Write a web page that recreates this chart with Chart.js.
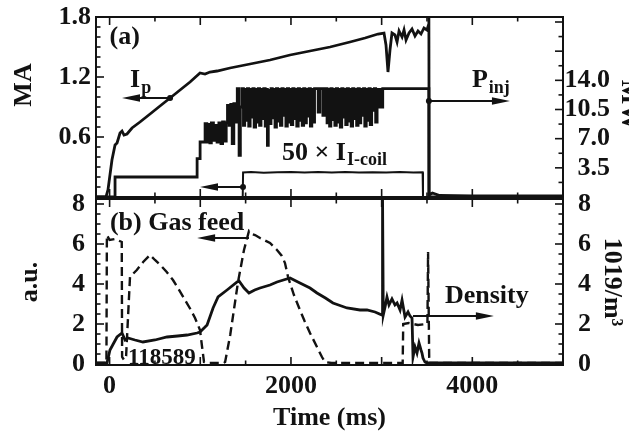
<!DOCTYPE html>
<html>
<head>
<meta charset="utf-8">
<script src="https://cdn.jsdelivr.net/npm/chart.js@4/dist/chart.umd.min.js"></script>
<style>
  html, body { margin: 0; padding: 0; background: #fff; }
  #wrap { position: relative; width: 629px; height: 434px; overflow: hidden; background: #fff; }
  #wrap canvas { position: absolute; left: 0; }
  #topPanel { top: 0; }
  #bottomPanel { top: 188px; }
</style>
</head>
<body>
<div id="wrap">
  <canvas id="topPanel" width="629" height="199"></canvas>
  <canvas id="bottomPanel" width="629" height="246"></canvas>
</div>
<script>
// ---------- time axis ----------
const timeMin = -150, timeMax = 5000;
const timeTicks = [0, 2000, 4000];

// ---------- (a) plasma current I_p [MA] ----------
const ipTime = [-150, -40, -18, 26, 60, 82, 115, 137, 159, 192, 247, 335, 446, 556, 667, 777, 887, 997, 1052, 1107, 1185,
  1328, 1549, 1769, 1990, 2210, 2431, 2651, 2817, 2960, 3026, 3048, 3070, 3092, 3114, 3147, 3170, 3192, 3225, 3247,
  3269, 3302, 3335, 3368, 3401, 3434, 3467, 3500, 3517, 3521, 3524, 3560, 3640, 4000, 4500, 5000];
const ipMA = [0, 0, 0.07, 0.37, 0.52, 0.54, 0.64, 0.66, 0.62, 0.63, 0.69, 0.75, 0.83, 0.91, 0.99, 1.07, 1.15, 1.24, 1.23, 1.25, 1.26,
  1.29, 1.33, 1.37, 1.42, 1.46, 1.50, 1.55, 1.59, 1.63, 1.64, 1.52, 1.25, 1.47, 1.64, 1.62, 1.55, 1.66, 1.60, 1.67,
  1.57, 1.64, 1.68, 1.61, 1.66, 1.63, 1.69, 1.67, 1.72, 1.80, 0.02, 0.04, 0.015, 0.01, 0.012, 0.01];

// ---------- (a) injected beam power P_inj [MW] (sample-and-hold) ----------
const pinjTime = [-150, 60, 965, 998, 1053, 1072, 1088, 1106, 1122, 1145, 1162, 1185, 1205, 1228, 1246, 1266, 1286, 1300,
  1318, 1336, 1352, 1370, 1390, 1408, 1428, 1442, 1462, 1476, 1490, 1504, 1520, 1534, 1550, 1564, 1580, 1594, 1610, 1624,
  1640, 1654, 1670, 1684, 1700, 1716, 1730, 1740, 1750, 1764, 1780, 1794, 1810, 1824, 1840, 1854, 1870, 1884, 1900, 1914,
  1930, 1944, 1960, 1974, 1990, 2004, 2020, 2034, 2050, 2064, 2080, 2094, 2110, 2124, 2140, 2154, 2170, 2184, 2200, 2214,
  2230, 2244, 2260, 2300, 2318, 2352, 2370, 2398, 2412, 2426, 2440, 2454, 2470, 2484, 2500, 2514, 2530, 2544, 2560, 2574,
  2590, 2604, 2620, 2634, 2650, 2664, 2680, 2694, 2710, 2724, 2740, 2754, 2770, 2784, 2800, 2814, 2830, 2844, 2860, 2874,
  2890, 2904, 2920, 2934, 2950, 2964, 2980, 2995, 3012, 3521, 5000];
const pinjMW = [0, 2.4, 4.6, 6.6, 8.8, 6.6, 8.7, 6.5, 8.9, 6.8, 8.6, 6.6, 8.9, 6.4, 9.0, 6.7, 8.9, 11.0,
  8.6, 11.1, 6.4, 11.2, 9.0, 13.0, 5.0, 10.8, 13.0, 8.6, 12.9, 9.2, 13.0, 8.5, 12.9, 9.6, 13.0, 8.4, 12.9, 9.0,
  13.0, 8.6, 12.9, 9.4, 13.0, 8.5, 12.9, 6.2, 12.8, 8.8, 13.0, 9.5, 12.9, 8.4, 13.0, 9.1, 12.9, 8.6, 13.0, 9.8,
  12.9, 8.5, 13.0, 9.0, 12.9, 8.7, 13.0, 9.4, 12.9, 8.5, 13.0, 9.2, 12.9, 8.6, 13.0, 8.9, 12.9, 9.7, 13.0, 8.5,
  12.9, 9.0, 13.0, 10.2, 13.0, 9.8, 13.0, 8.9, 12.9, 8.5, 13.0, 9.3, 12.9, 8.6, 13.0, 9.0, 12.9, 8.4, 13.0, 9.6,
  12.9, 8.7, 13.0, 9.1, 12.9, 8.5, 13.0, 9.4, 12.9, 8.6, 13.0, 8.9, 12.9, 9.8, 13.0, 8.5, 12.9, 9.2, 13.0, 8.7,
  12.9, 10.4, 13.0, 9.0, 12.9, 10.8, 12.9, 10.8, 13.0, 0, 0];

// ---------- (a) 50 x I-coil current [MA] ----------
const icoilTime = [-150, 1468, 1472, 1560, 1700, 1850, 2000, 2150, 2300, 2450, 2600, 2750, 2900, 3050, 3200, 3350, 3452, 3456, 5000];
const icoilMA = [0, 0, 0.245, 0.25, 0.243, 0.248, 0.25, 0.244, 0.249, 0.246, 0.251, 0.245, 0.248, 0.244, 0.25, 0.246, 0.247, 0, 0];

// ---------- (b) gas feed [a.u.] ----------
const gasTime = [-150, -35, -30, 0, 60, 110, 134, 138, 160, 182, 225, 300, 370, 445, 500, 560, 630, 699, 760, 831, 890, 942,
  997, 1020, 1041, 1100, 1252, 1274, 1330, 1416, 1482, 1537, 1570, 1604, 1659, 1769, 1846, 1900, 1934, 1968, 2033, 2099,
  2150, 2210, 2287, 2342, 2375, 2450, 3232, 3238, 3300, 3400, 3505, 3512, 3525, 5000];
const gasAU = [0.05, 0.05, 6.45, 6.2, 6.25, 6.15, 6.1, 0.35, 0.2, 0.4, 4.35, 4.7, 5.1, 5.45, 5.2, 4.95, 4.6, 4.2, 3.75, 3.2, 2.75, 2.3,
  1.7, 0.85, 0.1, 0.05, 0.05, 0.1, 1.45, 4.1, 5.7, 6.65, 6.5, 6.45, 6.3, 6.05, 5.7, 5.4, 5.05, 4.35, 3.45, 2.7,
  2.15, 1.55, 0.85, 0.35, 0.1, 0.05, 0.05, 2.0, 2.05, 1.95, 2.0, 5.6, 0.05, 0.05];

// ---------- (b) line-averaged density [10^19 m^-3] ----------
const neTime = [-150, -29, 4, 40, 82, 137, 170, 203, 280, 368, 500, 633, 750, 854, 964, 997, 1075, 1141, 1196, 1295, 1406,
  1428, 1483, 1537, 1600, 1659, 1769, 1846, 1990, 2099, 2210, 2287, 2380, 2463, 2618, 2761, 2838, 2927, 3004, 3010, 3018,
  3040, 3059, 3081, 3114, 3147, 3170, 3203, 3225, 3258, 3291, 3313, 3335, 3346, 3368, 3390, 3412, 3434, 3445, 3456, 3478,
  3500, 5000];
const neVal = [0.05, 0.05, 0.7, 1.0, 1.35, 1.55, 1.2, 1.3, 1.2, 1.1, 1.2, 1.35, 1.4, 1.45, 1.55, 1.6, 1.95, 2.8, 3.35, 3.7, 4.1,
  4.15, 3.8, 3.55, 3.7, 3.8, 3.95, 4.1, 4.3, 4.05, 3.8, 3.55, 3.3, 3.05, 2.8, 2.7, 2.7, 2.6, 2.45, 8.3, 2.45,
  2.9, 3.35, 2.95, 3.25, 2.95, 3.05, 2.7, 3.2, 2.35, 2.6, 2.4, 2.3, 0.35, 0.85, 0.55, 1.05, 0.7, 0.55, 0.3, 0.1,
  0.05, 0.05];

// ---------- tick labels ----------
const maTicks = [0.6, 1.2, 1.8];
const mwTicks = [3.5, 7.0, 10.5, 14.0];
const auTicks = [0, 2, 4, 6, 8];
const neTicks = [0, 2, 4, 6, 8];

// ---------- styling helpers ----------
const FONT = "'Liberation Serif', 'Times New Roman', serif";
const INK = '#121212';
Chart.defaults.font.family = FONT;
Chart.defaults.color = INK;

const zip = (xs, ys) => xs.map((x, i) => ({ x: x, y: ys[i] }));

function fixedWidth(w) {
  return function (s) { s.width = w; s.paddingTop = 0; s.paddingBottom = 0; };
}
function fixedHeight(h) {
  return function (s) { s.height = h; s.paddingLeft = 0; s.paddingRight = 0; };
}
function useTicks(values) {
  return function (s) { s.ticks = values.map(v => ({ value: v })); };
}
const tickFont = { family: FONT, size: 26, weight: 'bold' };

function inwardTicks(ctx, area, scale, side, step, major) {
  const n0 = Math.ceil(scale.min / step - 1e-9);
  const n1 = Math.floor(scale.max / step + 1e-9);
  ctx.save();
  ctx.strokeStyle = INK;
  ctx.lineWidth = 1.6;
  for (let n = n0; n <= n1; n++) {
    const v = n * step;
    const r = v / major;
    const len = Math.abs(r - Math.round(r)) < 1e-6 ? 8 : 4.5;
    const p = scale.getPixelForValue(v);
    ctx.beginPath();
    if (side === 'left') { ctx.moveTo(area.left, p); ctx.lineTo(area.left + len, p); }
    if (side === 'right') { ctx.moveTo(area.right, p); ctx.lineTo(area.right - len, p); }
    if (side === 'top') { ctx.moveTo(p, area.top); ctx.lineTo(p, area.top + len); }
    if (side === 'bottom') { ctx.moveTo(p, area.bottom); ctx.lineTo(p, area.bottom - len); }
    ctx.stroke();
  }
  ctx.restore();
}

function frame(ctx, area) {
  ctx.save();
  ctx.strokeStyle = INK;
  ctx.lineWidth = 2;
  ctx.strokeRect(area.left, area.top, area.right - area.left, area.bottom - area.top);
  ctx.restore();
}

function label(ctx, text, x, y, size, weight) {
  ctx.save();
  ctx.fillStyle = INK;
  ctx.font = (weight || 'bold') + ' ' + size + 'px ' + FONT;
  ctx.textAlign = 'left';
  ctx.textBaseline = 'alphabetic';
  ctx.fillText(text, x, y);
  ctx.restore();
}

function subLabel(ctx, main, sub, x, y, size, subSize, drop) {
  ctx.save();
  ctx.fillStyle = INK;
  ctx.textAlign = 'left';
  ctx.textBaseline = 'alphabetic';
  ctx.font = 'bold ' + size + 'px ' + FONT;
  ctx.fillText(main, x, y);
  const w = ctx.measureText(main).width;
  ctx.font = 'bold ' + subSize + 'px ' + FONT;
  ctx.fillText(sub, x + w + 1, y + drop);
  ctx.restore();
}

function arrow(ctx, x1, y, x2, dot) {
  const dir = Math.sign(x2 - x1);
  const L = 18, H = 3.8;
  ctx.save();
  ctx.strokeStyle = INK;
  ctx.fillStyle = INK;
  ctx.lineWidth = 2;
  ctx.beginPath();
  ctx.moveTo(x1, y);
  ctx.lineTo(x2 - dir * (L - 2), y);
  ctx.stroke();
  ctx.beginPath();
  ctx.moveTo(x2, y);
  ctx.lineTo(x2 - dir * L, y - H);
  ctx.lineTo(x2 - dir * L, y + H);
  ctx.closePath();
  ctx.fill();
  if (dot) {
    ctx.beginPath();
    ctx.arc(x1, y, 3, 0, Math.PI * 2);
    ctx.fill();
  }
  ctx.restore();
}

function rotatedTitle(ctx, text, x, y, angle) {
  ctx.save();
  ctx.fillStyle = INK;
  ctx.font = 'bold 26px ' + FONT;
  ctx.translate(x, y);
  ctx.rotate(angle);
  ctx.textAlign = 'center';
  ctx.textBaseline = 'middle';
  ctx.fillText(text, 0, 0);
  ctx.restore();
}

// ---------- panel (a) ----------
const panelAOverlay = {
  id: 'panelAOverlay',
  afterDraw(chart) {
    const ctx = chart.ctx, area = chart.chartArea;
    const X = chart.scales.x, A = chart.scales.yMA, W = chart.scales.yMW;
    const px = t => X.getPixelForValue(t);
    const py = v => A.getPixelForValue(v);
    frame(ctx, area);
    inwardTicks(ctx, area, A, 'left', 0.1, 0.6);
    inwardTicks(ctx, area, W, 'right', 1.75, 3.5);
    inwardTicks(ctx, area, X, 'top', 500, 1000);
    inwardTicks(ctx, area, X, 'bottom', 500, 1000);

    label(ctx, '(a)', px(0), py(1.53), 26);
    subLabel(ctx, 'I', 'p', px(226), py(1.10), 26, 18, 6);
    arrow(ctx, px(667), py(0.99), px(137), true);
    subLabel(ctx, 'P', 'inj', px(3996), py(1.10), 26, 18, 6);
    arrow(ctx, px(3521), py(0.96), px(4415), true);
    subLabel(ctx, '50 \u00d7 I', 'I-coil', px(1901), py(0.37), 26, 18, 5);
    arrow(ctx, px(1471), py(0.10), px(997), true);

    rotatedTitle(ctx, 'MA', 24, 85, -Math.PI / 2);
    rotatedTitle(ctx, 'MW', 629, 105, Math.PI / 2);
  }
};

new Chart(document.getElementById('topPanel'), {
  type: 'line',
  data: {
    datasets: [
      { data: zip(ipTime, ipMA), yAxisID: 'yMA', borderColor: INK, borderWidth: 2.8, pointRadius: 0, tension: 0 },
      { data: zip(pinjTime, pinjMW), yAxisID: 'yMW', borderColor: INK, borderWidth: 2.8, pointRadius: 0, stepped: true },
      { data: zip(icoilTime, icoilMA), yAxisID: 'yMA', borderColor: INK, borderWidth: 2, pointRadius: 0, tension: 0 }
    ]
  },
  options: {
    responsive: false, animation: false, devicePixelRatio: 1,
    layout: { padding: { top: 17, bottom: 2, left: 0, right: 19 } },
    plugins: { legend: { display: false }, tooltip: { enabled: false } },
    scales: {
      x: { type: 'linear', min: timeMin, max: timeMax, display: false },
      yMA: {
        type: 'linear', position: 'left', min: 0, max: 1.8,
        grid: { display: false, drawTicks: false }, border: { display: false },
        ticks: { font: tickFont, padding: 5, autoSkip: false, callback: v => Number(v).toFixed(1) },
        afterBuildTicks: useTicks(maTicks), afterFit: fixedWidth(96)
      },
      yMW: {
        type: 'linear', position: 'right', min: 0, max: 21.6,
        grid: { display: false, drawTicks: false }, border: { display: false },
        ticks: { font: tickFont, padding: 1, crossAlign: 'far', autoSkip: false, callback: v => Number(v).toFixed(1) },
        afterBuildTicks: useTicks(mwTicks), afterFit: fixedWidth(47)
      }
    }
  },
  plugins: [panelAOverlay]
});

// ---------- panel (b) ----------
const panelBOverlay = {
  id: 'panelBOverlay',
  afterDraw(chart) {
    const ctx = chart.ctx, area = chart.chartArea;
    const X = chart.scales.x, G = chart.scales.yAU, N = chart.scales.yNE;
    const px = t => X.getPixelForValue(t);
    const py = v => G.getPixelForValue(v);
    frame(ctx, area);
    inwardTicks(ctx, area, G, 'left', 0.5, 2);
    inwardTicks(ctx, area, N, 'right', 0.5, 2);
    inwardTicks(ctx, area, X, 'top', 500, 1000);
    inwardTicks(ctx, area, X, 'bottom', 500, 1000);

    label(ctx, '(b) Gas feed', px(4), py(6.7), 26);
    arrow(ctx, px(1537), py(6.3), px(965), false);
    label(ctx, 'Density', px(3698), py(3.05), 26);
    arrow(ctx, px(3346), py(2.4), px(4238), false);
    label(ctx, '118589', px(202), py(-0.02), 23, 'bold');
  }
};

new Chart(document.getElementById('bottomPanel'), {
  type: 'line',
  data: {
    datasets: [
      { data: zip(gasTime, gasAU), yAxisID: 'yAU', borderColor: INK, borderWidth: 2.4, borderDash: [9, 5], pointRadius: 0, tension: 0 },
      { data: zip(neTime, neVal), yAxisID: 'yNE', borderColor: INK, borderWidth: 2.8, pointRadius: 0, tension: 0 }
    ]
  },
  options: {
    responsive: false, animation: false, devicePixelRatio: 1,
    layout: { padding: { top: 11, bottom: 0, left: 0, right: 0 } },
    plugins: { legend: { display: false }, tooltip: { enabled: false } },
    scales: {
      x: {
        type: 'linear', position: 'bottom', min: timeMin, max: timeMax,
        grid: { display: false, drawTicks: false }, border: { display: false },
        ticks: { font: tickFont, padding: 6, maxRotation: 0, autoSkip: false, callback: v => String(v) },
        title: { display: true, text: 'Time (ms)', font: tickFont, padding: { top: 0, bottom: 0 } },
        afterBuildTicks: useTicks(timeTicks), afterFit: fixedHeight(69)
      },
      yAU: {
        type: 'linear', position: 'left', min: -0.05, max: 8.25,
        grid: { display: false, drawTicks: false }, border: { display: false },
        ticks: { font: tickFont, padding: 11, autoSkip: false, callback: v => String(v) },
        title: { display: true, text: 'a.u.', font: tickFont, padding: { top: 15, bottom: 0 } },
        afterBuildTicks: useTicks(auTicks), afterFit: fixedWidth(96)
      },
      yNE: {
        type: 'linear', position: 'right', min: -0.05, max: 8.25,
        grid: { display: false, drawTicks: false }, border: { display: false },
        ticks: { font: tickFont, padding: 15, autoSkip: false, callback: v => String(v) },
        title: { display: true, text: '1019/m\u00b3', font: tickFont, padding: { top: 2, bottom: 0 } },
        afterBuildTicks: useTicks(neTicks), afterFit: fixedWidth(66)
      }
    }
  },
  plugins: [panelBOverlay]
});
</script>
</body>
</html>
